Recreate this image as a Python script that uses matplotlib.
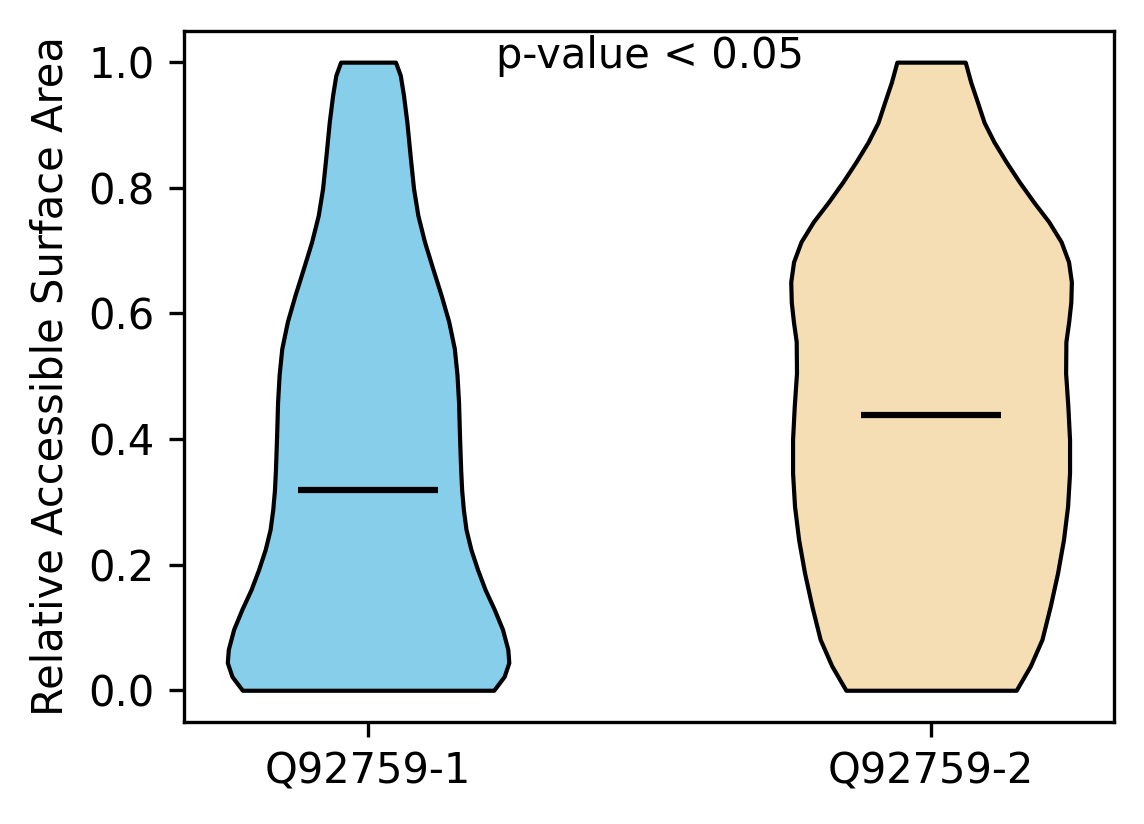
import matplotlib
matplotlib.use('Agg')
import numpy as np
import matplotlib.pyplot as plt

# violin outlines: value on y axis, relative half width (1 = widest)
labels = ['Q92759-1', 'Q92759-2']
colors = ['skyblue', 'wheat']

y1 = [0.0, 0.022, 0.044, 0.065, 0.097, 0.129, 0.160, 0.192, 0.224, 0.256, 0.288,
      0.319, 0.351, 0.403, 0.458, 0.502, 0.544, 0.587, 0.629, 0.671, 0.714, 0.756,
      0.799, 0.851, 0.904, 0.947, 0.979, 1.0]
w1 = [0.893, 0.967, 1.0, 0.993, 0.955, 0.896, 0.832, 0.778, 0.731, 0.696, 0.677,
      0.665, 0.658, 0.650, 0.643, 0.632, 0.613, 0.573, 0.519, 0.460, 0.401, 0.354,
      0.323, 0.299, 0.276, 0.252, 0.229, 0.195]

y2 = [0.0, 0.039, 0.081, 0.134, 0.187, 0.240, 0.293, 0.346, 0.399, 0.452, 0.505,
      0.555, 0.587, 0.618, 0.650, 0.682, 0.714, 0.746, 0.777, 0.809, 0.841, 0.873,
      0.904, 0.936, 0.968, 1.0]
w2 = [0.605, 0.706, 0.788, 0.847, 0.899, 0.941, 0.970, 0.984, 0.984, 0.972, 0.956,
      0.958, 0.978, 0.993, 0.997, 0.977, 0.924, 0.836, 0.730, 0.628, 0.534, 0.447,
      0.377, 0.330, 0.282, 0.243]

medians = [0.319, 0.438]

fig = plt.figure(figsize=(1144 / 300, 824 / 300), dpi=300)
ax = fig.add_axes([0.1608, 0.1242, 0.8130, 0.8385])

half = 0.25
for pos, (yy, ww, c) in enumerate(zip([y1, y2], [w1, w2], colors), start=1):
    yy = np.array(yy)
    ww = np.array(ww) * half
    ax.fill_betweenx(yy, pos - ww, pos + ww, facecolor=c, edgecolor='black', linewidth=1)

ax.hlines(medians, [p - half / 2 for p in (1, 2)], [p + half / 2 for p in (1, 2)],
          colors='black', linewidth=1.5)

ax.set_xticks([1, 2])
ax.set_xticklabels(labels)
ax.set_xlim(0.673, 2.325)
ax.set_ylim(-0.05, 1.05)
ax.set_ylabel('Relative Accessible Surface Area')
ax.text(1.5, 1.01, 'p-value < 0.05', ha='center', va='center')

fig.savefig('out.png', dpi=300)
